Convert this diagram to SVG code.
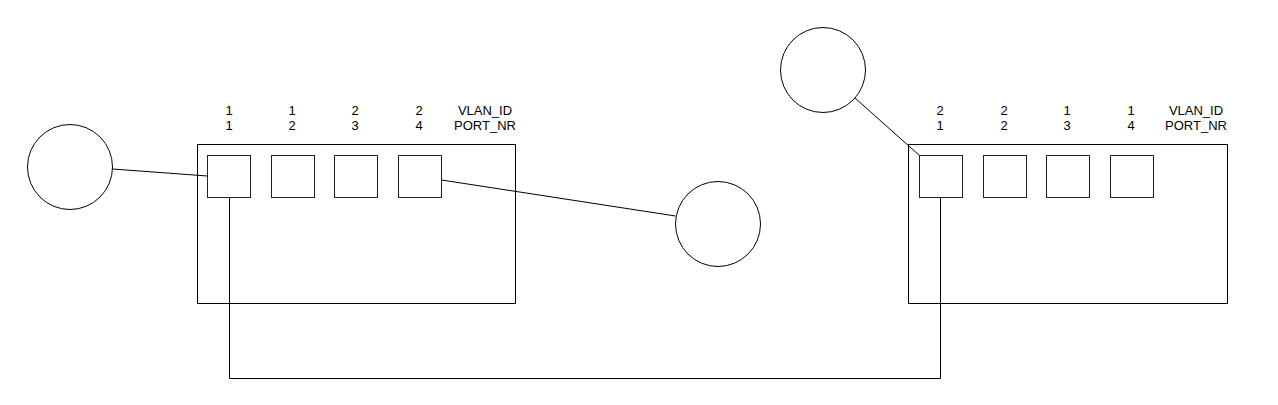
<svg xmlns="http://www.w3.org/2000/svg" width="1278" height="405" viewBox="0 0 1278 405">
<style>
.s{fill:none;stroke:#000;stroke-width:1}
.p{fill:#fff;stroke:#222;stroke-width:1}
.b{fill:#fff;stroke:#000;stroke-width:1}
.c{fill:#fff;stroke:#000;stroke-width:1}
text{font-family:"Liberation Sans",Arial,sans-serif;font-size:13px;fill:#000;text-anchor:middle}
</style>
<rect width="1278" height="405" fill="#fff"/>
<g id="switch1">
<rect class="b" x="197.5" y="144.5" width="318" height="159"/>
<text x="229" y="115">1</text><text x="229" y="130">1</text>
<text x="292" y="115">1</text><text x="292" y="130">2</text>
<text x="355" y="115">2</text><text x="355" y="130">3</text>
<text x="419" y="115">2</text><text x="419" y="130">4</text>
<text x="485" y="115">VLAN_ID</text><text x="485" y="130">PORT_NR</text>
</g>
<g id="s1p1"><rect class="p" x="207.5" y="155.5" width="43" height="42"/></g>
<g id="s1p2"><rect class="p" x="271.5" y="155.5" width="43" height="42"/></g>
<g id="s1p3"><rect class="p" x="334.5" y="155.5" width="43" height="42"/></g>
<g id="s1p4"><rect class="p" x="398.5" y="155.5" width="43" height="42"/></g>
<g id="switch2">
<rect class="b" x="908.5" y="144.5" width="319" height="159"/>
<text x="940" y="115">2</text><text x="940" y="130">1</text>
<text x="1004" y="115">2</text><text x="1004" y="130">2</text>
<text x="1067" y="115">1</text><text x="1067" y="130">3</text>
<text x="1131" y="115">1</text><text x="1131" y="130">4</text>
<text x="1196" y="115">VLAN_ID</text><text x="1196" y="130">PORT_NR</text>
</g>
<g id="s2p1"><rect class="p" x="919.5" y="155.5" width="43" height="42"/></g>
<g id="s2p2"><rect class="p" x="983.5" y="155.5" width="43" height="42"/></g>
<g id="s2p3"><rect class="p" x="1046.5" y="155.5" width="43" height="42"/></g>
<g id="s2p4"><rect class="p" x="1110.5" y="155.5" width="43" height="42"/></g>
<g id="host1"><circle class="c" cx="70" cy="167" r="42.5"/></g>
<g id="host2"><circle class="c" cx="718" cy="224" r="42.5"/></g>
<g id="host3"><circle class="c" cx="823" cy="70" r="42.5"/></g>
<g id="connectors">
<line class="s" x1="112.5" y1="169" x2="207.5" y2="176"/>
<line class="s" x1="441.5" y1="180" x2="675.5" y2="216"/>
<line class="s" x1="855" y1="98" x2="919.5" y2="155.5"/>
<polyline class="s" points="229.5,197.5 229.5,378.5 940.5,378.5 940.5,197.5"/>
</g>
</svg>
